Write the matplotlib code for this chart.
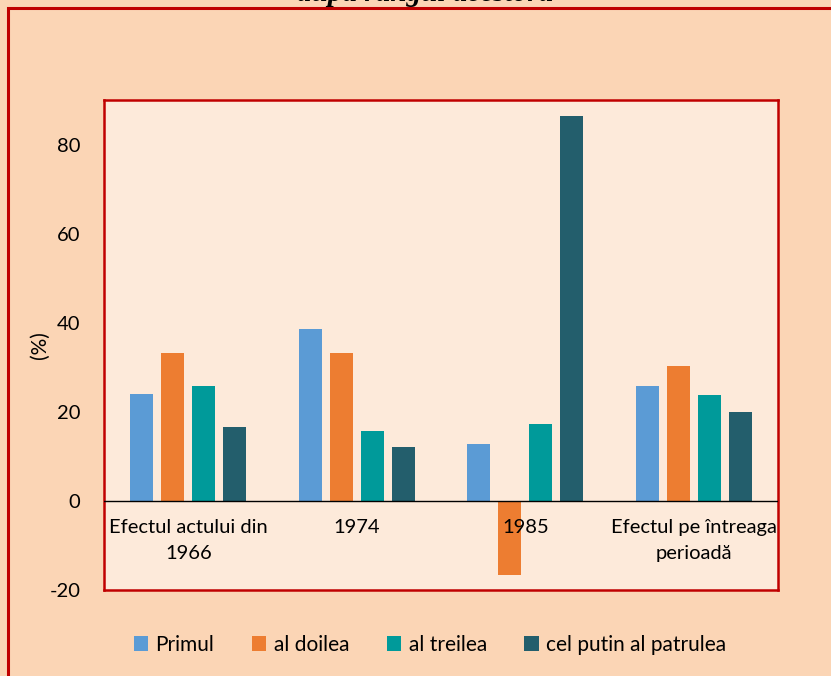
import numpy as np
import matplotlib.pyplot as plt
from matplotlib.patches import Rectangle

categories = ["Efectul actului din\n1966", "1974", "1985", "Efectul pe întreaga\nperioadă"]
series_names = ["Primul", "al doilea", "al treilea", "cel putin al patrulea"]
primul = [24.0, 38.7, 12.8, 25.8]
al_doilea = [33.3, 33.3, -16.6, 30.3]
al_treilea = [25.8, 15.7, 17.3, 23.8]
al_patrulea = [16.6, 12.1, 86.3, 20.0]
y_ticks = [-20, 0, 20, 40, 60, 80]

colors = ["#5B9BD5", "#ED7D31", "#009A9A", "#235E6C"]
FONT = "Lato"
FS = 14.5

fig = plt.figure(figsize=(8.31, 6.76), dpi=100)
fig.patch.set_facecolor("#FBD5B5")

# outer chart border (only left and top visible)
fig.patches.append(Rectangle((8 / 831, -0.1), 1.2, 1.1 - 8 / 676,
                             transform=fig.transFigure, fill=False,
                             edgecolor="#C00000", linewidth=2.2))

# title is clipped by the top edge in the original
fig.text(425 / 831, 1 - 1 / 676, "după rangul acestora", ha="center", va="baseline",
         family="Liberation Serif", weight="bold", style="italic", fontsize=21)

ax = fig.add_axes([104 / 831, 1 - 590 / 676, 674 / 831, 490 / 676])
ax.set_facecolor("#FDEADA")

x = np.arange(len(categories))
step = 0.184
width = 0.138
for i, (name, vals) in enumerate(zip(series_names, [primul, al_doilea, al_treilea, al_patrulea])):
    ax.bar(x + (i - 1.5) * step, vals, width, color=colors[i], label=name, zorder=2)

ax.set_xlim(-0.5, len(categories) - 0.5)
ax.set_ylim(-20, 90)
ax.set_yticks(y_ticks)
ax.set_yticklabels([str(t) for t in y_ticks], family=FONT, fontsize=FS)
ax.tick_params(axis="y", length=0, pad=17)
ax.set_xticks([])
ax.axhline(0, color="black", linewidth=1.0, zorder=3)

for xi, lab in zip(x, categories):
    ax.annotate(lab, (xi, 0), xytext=(0, -13), textcoords="offset points",
                ha="center", va="top", family=FONT, fontsize=FS,
                linespacing=1.65, zorder=4)

for sp in ax.spines.values():
    sp.set_edgecolor("#C00000")
    sp.set_linewidth(1.8)

fig.text(40 / 831, 1 - 345 / 676, "(%)", rotation=90, ha="center", va="center",
         family=FONT, fontsize=FS + 0.5)

fig.legend(loc="center", bbox_to_anchor=(430 / 831, 1 - 645 / 676), ncol=4,
           frameon=False, prop={"family": FONT, "size": FS + 0.5},
           handlelength=0.7, handleheight=0.7, handletextpad=0.35, columnspacing=1.8)

fig.savefig("out.png", dpi=100, facecolor=fig.get_facecolor())
